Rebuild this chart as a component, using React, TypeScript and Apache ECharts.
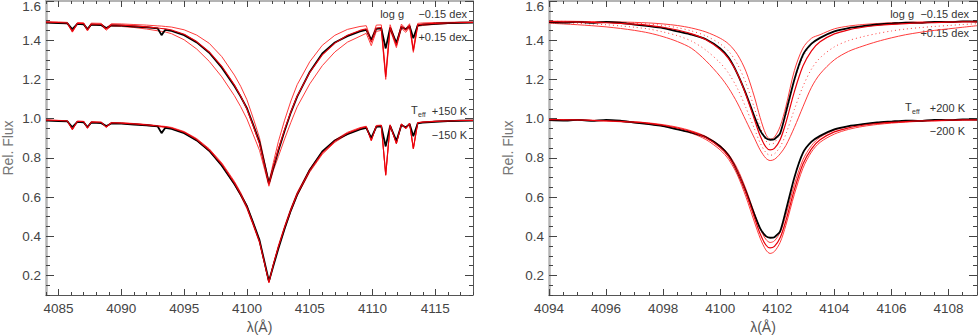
import React, { useEffect, useRef } from "react";
import * as echarts from "echarts";

// ---------- Left panel (4084 - 4118 Å) ----------
const lamL = [4084.0, 4085.0, 4085.7, 4086.1, 4086.5, 4087.0, 4087.3, 4087.6, 4088.4, 4088.8, 4089.2, 4090.0, 4091.0, 4092.0, 4092.9, 4093.2, 4093.5, 4094.0, 4095.0, 4096.0, 4097.0, 4098.0, 4099.0, 4099.5, 4100.0, 4100.5, 4101.0, 4101.4, 4101.75, 4102.1, 4102.5, 4103.0, 4103.5, 4104.0, 4105.0, 4106.0, 4107.0, 4108.0, 4109.0, 4109.5, 4109.9, 4110.3, 4110.7, 4111.05, 4111.4, 4111.9, 4112.3, 4112.65, 4112.95, 4113.25, 4113.6, 4114.0, 4115.0, 4116.0, 4117.0, 4118.0];
const obsL = [0.990, 0.987, 0.986, 0.956, 0.983, 0.981, 0.957, 0.979, 0.977, 0.962, 0.975, 0.974, 0.970, 0.966, 0.960, 0.926, 0.953, 0.947, 0.926, 0.889, 0.836, 0.760, 0.666, 0.612, 0.553, 0.468, 0.380, 0.268, 0.170, 0.248, 0.336, 0.438, 0.532, 0.612, 0.738, 0.832, 0.888, 0.921, 0.945, 0.953, 0.902, 0.958, 0.960, 0.858, 0.963, 0.886, 0.967, 0.956, 0.972, 0.910, 0.976, 0.979, 0.984, 0.987, 0.989, 0.990];
const fitL = [0.992, 0.990, 0.988, 0.945, 0.986, 0.985, 0.952, 0.983, 0.981, 0.957, 0.979, 0.977, 0.973, 0.968, 0.962, 0.960, 0.958, 0.952, 0.930, 0.893, 0.840, 0.767, 0.672, 0.615, 0.548, 0.462, 0.372, 0.262, 0.165, 0.255, 0.345, 0.445, 0.535, 0.615, 0.735, 0.825, 0.885, 0.925, 0.950, 0.958, 0.889, 0.962, 0.965, 0.713, 0.967, 0.873, 0.972, 0.950, 0.976, 0.847, 0.979, 0.982, 0.986, 0.988, 0.990, 0.991];
const loggMinusL = [0.994, 0.993, 0.991, 0.948, 0.990, 0.989, 0.956, 0.987, 0.986, 0.962, 0.984, 0.983, 0.980, 0.977, 0.973, 0.972, 0.970, 0.967, 0.953, 0.926, 0.884, 0.816, 0.722, 0.665, 0.596, 0.502, 0.402, 0.280, 0.175, 0.275, 0.382, 0.492, 0.590, 0.673, 0.790, 0.874, 0.925, 0.955, 0.970, 0.974, 0.902, 0.977, 0.978, 0.722, 0.979, 0.883, 0.982, 0.959, 0.984, 0.855, 0.986, 0.988, 0.990, 0.991, 0.992, 0.992];
const loggPlusL = [0.990, 0.987, 0.984, 0.941, 0.982, 0.980, 0.947, 0.978, 0.975, 0.951, 0.972, 0.970, 0.965, 0.957, 0.948, 0.945, 0.942, 0.933, 0.902, 0.855, 0.792, 0.713, 0.617, 0.561, 0.498, 0.418, 0.338, 0.242, 0.155, 0.235, 0.306, 0.396, 0.481, 0.560, 0.677, 0.770, 0.840, 0.890, 0.920, 0.935, 0.872, 0.945, 0.950, 0.700, 0.954, 0.862, 0.961, 0.940, 0.967, 0.838, 0.971, 0.975, 0.981, 0.985, 0.988, 0.990];
const teffPlusL = [0.993, 0.991, 0.989, 0.947, 0.987, 0.986, 0.954, 0.984, 0.982, 0.959, 0.980, 0.979, 0.975, 0.970, 0.964, 0.962, 0.960, 0.955, 0.934, 0.898, 0.846, 0.774, 0.680, 0.623, 0.556, 0.469, 0.378, 0.266, 0.168, 0.259, 0.351, 0.452, 0.543, 0.623, 0.743, 0.832, 0.891, 0.930, 0.954, 0.961, 0.892, 0.965, 0.967, 0.716, 0.969, 0.875, 0.973, 0.951, 0.977, 0.849, 0.980, 0.983, 0.987, 0.989, 0.991, 0.991];
const teffMinusL = [0.991, 0.989, 0.987, 0.943, 0.985, 0.984, 0.950, 0.982, 0.980, 0.955, 0.977, 0.975, 0.971, 0.965, 0.959, 0.957, 0.955, 0.949, 0.926, 0.887, 0.833, 0.759, 0.663, 0.606, 0.540, 0.455, 0.366, 0.258, 0.162, 0.251, 0.339, 0.438, 0.527, 0.607, 0.727, 0.818, 0.879, 0.920, 0.946, 0.955, 0.886, 0.960, 0.963, 0.710, 0.965, 0.871, 0.970, 0.948, 0.975, 0.845, 0.978, 0.981, 0.985, 0.987, 0.989, 0.990];

// ---------- Right panel (4094 - 4109 Å) ----------
const lamR = [4094.0, 4094.5, 4095.0, 4095.5, 4096.0, 4096.5, 4097.0, 4097.5, 4098.0, 4098.5, 4099.0, 4099.5, 4100.0, 4100.3, 4100.6, 4100.9, 4101.2, 4101.4, 4101.6, 4101.75, 4101.9, 4102.1, 4102.3, 4102.6, 4102.9, 4103.2, 4103.5, 4104.0, 4104.5, 4105.0, 4105.5, 4106.0, 4106.5, 4107.0, 4107.5, 4108.0, 4108.5, 4109.0];
const obsR = [0.992, 0.990, 0.993, 0.988, 0.994, 0.989, 0.980, 0.972, 0.962, 0.945, 0.928, 0.905, 0.858, 0.810, 0.730, 0.628, 0.510, 0.440, 0.400, 0.392, 0.395, 0.425, 0.530, 0.700, 0.825, 0.882, 0.912, 0.945, 0.962, 0.972, 0.980, 0.985, 0.990, 0.988, 0.994, 0.992, 0.996, 0.995];
const fitR = [0.995, 0.994, 0.993, 0.991, 0.989, 0.986, 0.982, 0.976, 0.966, 0.952, 0.932, 0.902, 0.852, 0.805, 0.730, 0.622, 0.495, 0.412, 0.355, 0.340, 0.348, 0.392, 0.478, 0.638, 0.768, 0.846, 0.892, 0.932, 0.953, 0.966, 0.975, 0.981, 0.985, 0.988, 0.990, 0.992, 0.993, 0.994];
const loggMinusR = [0.997, 0.997, 0.996, 0.995, 0.994, 0.993, 0.991, 0.988, 0.983, 0.975, 0.962, 0.942, 0.910, 0.880, 0.828, 0.742, 0.610, 0.505, 0.420, 0.395, 0.405, 0.460, 0.560, 0.745, 0.860, 0.910, 0.928, 0.958, 0.972, 0.980, 0.985, 0.989, 0.991, 0.993, 0.994, 0.995, 0.996, 0.996];
const loggPlusR = [0.987, 0.983, 0.979, 0.974, 0.968, 0.960, 0.950, 0.937, 0.918, 0.893, 0.858, 0.795, 0.715, 0.655, 0.580, 0.490, 0.400, 0.340, 0.298, 0.286, 0.292, 0.320, 0.362, 0.455, 0.560, 0.660, 0.728, 0.800, 0.843, 0.870, 0.893, 0.912, 0.928, 0.940, 0.950, 0.958, 0.966, 0.974];
const loggMinusHalfR = [0.996, 0.996, 0.994, 0.993, 0.991, 0.990, 0.987, 0.982, 0.975, 0.964, 0.947, 0.922, 0.881, 0.843, 0.779, 0.682, 0.553, 0.459, 0.388, 0.368, 0.377, 0.426, 0.519, 0.692, 0.814, 0.878, 0.910, 0.945, 0.963, 0.973, 0.980, 0.985, 0.988, 0.990, 0.992, 0.994, 0.995, 0.995];
const loggPlusHalfR = [0.991, 0.989, 0.986, 0.983, 0.979, 0.973, 0.966, 0.957, 0.942, 0.923, 0.895, 0.849, 0.784, 0.730, 0.655, 0.556, 0.448, 0.376, 0.327, 0.313, 0.320, 0.356, 0.420, 0.547, 0.664, 0.753, 0.810, 0.866, 0.898, 0.918, 0.934, 0.947, 0.957, 0.964, 0.970, 0.975, 0.980, 0.984];
const teffPlusR = [0.996, 0.995, 0.994, 0.992, 0.990, 0.988, 0.984, 0.978, 0.969, 0.956, 0.937, 0.909, 0.862, 0.817, 0.745, 0.641, 0.517, 0.438, 0.384, 0.368, 0.376, 0.420, 0.506, 0.664, 0.790, 0.862, 0.905, 0.941, 0.960, 0.971, 0.979, 0.984, 0.987, 0.990, 0.992, 0.993, 0.994, 0.995];
const teffMinusR = [0.994, 0.993, 0.992, 0.990, 0.987, 0.984, 0.979, 0.972, 0.961, 0.946, 0.925, 0.893, 0.840, 0.791, 0.713, 0.601, 0.472, 0.390, 0.330, 0.312, 0.322, 0.368, 0.455, 0.614, 0.747, 0.830, 0.879, 0.921, 0.945, 0.960, 0.970, 0.977, 0.982, 0.986, 0.988, 0.990, 0.992, 0.993];

// offset between the two groups of spectra
const UPPER_OFFSET = 0.5;

// ---------- tick labels ----------
const yLabels = [0.2, 0.4, 0.6, 0.8, 1.0, 1.2, 1.4, 1.6];
const xLabelsL = [4085, 4090, 4095, 4100, 4105, 4110, 4115];
const xLabelsR = [4094, 4096, 4098, 4100, 4102, 4104, 4106, 4108];

const FONT = "'Liberation Sans', Arial, Helvetica, sans-serif";
const TICK = "#444";
const GREY_AXIS = "#b4b4b4";

function pts(xs: number[], ys: number[], off = 0) {
  return xs.map((x, i) => [x, +(ys[i] + off).toFixed(4)]);
}

function xAxesFor(grid: number, min: number, max: number, minor: number, labels: number[]) {
  const base = { type: "value", gridIndex: grid, min, max, splitLine: { show: false } };
  return [
    {
      ...base,
      position: "bottom",
      interval: minor,
      axisLine: { show: true, onZero: false, lineStyle: { color: "#555", width: 1 } },
      axisTick: { show: true, inside: true, length: 6, customValues: labels, lineStyle: { color: TICK, width: 1 } },
      axisLabel: {
        show: true, customValues: labels, margin: 6, color: "#444", fontSize: 13.5, fontFamily: FONT,
        formatter: (v: number) => String(Math.round(v)),
      },
      name: "λ(Å)",
      nameLocation: "middle",
      nameGap: 23,
      nameTextStyle: { color: "#555", fontSize: 14, fontFamily: FONT },
    },
    {
      ...base,
      position: "bottom",
      interval: minor,
      axisLine: { show: false },
      axisTick: { show: true, inside: true, length: 3, lineStyle: { color: TICK, width: 1 } },
      axisLabel: { show: false },
    },
    {
      ...base,
      position: "top",
      interval: minor,
      axisLine: { show: true, onZero: false, lineStyle: { color: GREY_AXIS, width: 2 } },
      axisTick: { show: true, inside: true, length: 6, customValues: labels, lineStyle: { color: TICK, width: 1 } },
      axisLabel: { show: false },
    },
    {
      ...base,
      position: "top",
      interval: minor,
      axisLine: { show: false },
      axisTick: { show: true, inside: true, length: 3, lineStyle: { color: TICK, width: 1 } },
      axisLabel: { show: false },
    },
  ];
}

function yAxesFor(grid: number, nameGap: number) {
  const base = { type: "value", gridIndex: grid, min: 0.1, max: 1.6, interval: 0.05, splitLine: { show: false } };
  return [
    {
      ...base,
      position: "left",
      axisLine: { show: true, onZero: false, lineStyle: { color: GREY_AXIS, width: 2.5 } },
      axisTick: { show: true, inside: true, length: 8, customValues: yLabels, lineStyle: { color: TICK, width: 1 } },
      axisLabel: {
        show: true, customValues: yLabels, margin: 5, color: "#444", fontSize: 13.5, fontFamily: FONT,
        formatter: (v: number) => (v > 1.55 ? "{t|" + v.toFixed(1) + "}" : v.toFixed(1)),
        rich: { t: { padding: [10, 0, 0, 0], color: "#444", fontSize: 13.5, fontFamily: FONT } },
      },
      name: "Rel. Flux",
      nameLocation: "middle",
      nameGap,
      nameRotate: 90,
      nameTextStyle: { color: "#777", fontSize: 14, fontFamily: FONT },
    },
    {
      ...base,
      position: "left",
      axisLine: { show: false },
      axisTick: { show: true, inside: true, length: 4, lineStyle: { color: TICK, width: 1 } },
      axisLabel: { show: false },
    },
    {
      ...base,
      position: "right",
      axisLine: { show: true, onZero: false, lineStyle: { color: "#555", width: 1 } },
      axisTick: { show: true, inside: true, length: 8, customValues: yLabels, lineStyle: { color: TICK, width: 1 } },
      axisLabel: { show: false },
    },
    {
      ...base,
      position: "right",
      axisLine: { show: false },
      axisTick: { show: true, inside: true, length: 4, lineStyle: { color: TICK, width: 1 } },
      axisLabel: { show: false },
    },
  ];
}

function line(name: string, data: number[][], axis: number, color: string, width: number, type: string = "solid", smooth: number | boolean = false) {
  return {
    type: "line",
    name,
    data,
    xAxisIndex: axis,
    yAxisIndex: axis,
    showSymbol: false,
    symbol: "none",
    smooth,
    clip: true,
    lineStyle: { color, width, type },
    emphasis: { disabled: true },
  };
}

const RED_THIN = "#ff3b3b";
const RED_FIT = "#e8000b";
const BLACK = "#000000";

function txt(x: number, y: number, text: string, align: string, size = 11) {
  return {
    type: "text",
    x,
    y,
    silent: true,
    style: { text, fill: "#333", fontSize: size, fontFamily: FONT, align, verticalAlign: "middle" },
  };
}

export default function App() {
  const ref = useRef<HTMLDivElement>(null);
  useEffect(() => {
    if (!ref.current) return;
    const chart = echarts.init(ref.current, undefined, { renderer: "svg" });
    const series = [
      // left, upper (log g)
      line("logg -0.15 L", pts(lamL, loggMinusL, UPPER_OFFSET), 0, RED_THIN, 1),
      line("logg +0.15 L", pts(lamL, loggPlusL, UPPER_OFFSET), 0, RED_THIN, 1),
      line("obs L up", pts(lamL, obsL, UPPER_OFFSET), 0, BLACK, 1.8),
      line("fit L up", pts(lamL, fitL, UPPER_OFFSET), 0, RED_FIT, 1.1),
      // left, lower (Teff)
      line("teff +150", pts(lamL, teffPlusL), 0, RED_THIN, 1),
      line("teff -150", pts(lamL, teffMinusL), 0, RED_THIN, 1),
      line("obs L", pts(lamL, obsL), 0, BLACK, 1.8),
      line("fit L", pts(lamL, fitL), 0, RED_FIT, 1.1),
      // right, upper (log g)
      line("logg -0.15 R", pts(lamR, loggMinusR, UPPER_OFFSET), 4, RED_THIN, 1, "solid", 0.3),
      line("logg +0.15 R", pts(lamR, loggPlusR, UPPER_OFFSET), 4, RED_THIN, 1, "solid", 0.3),
      line("logg -half R", pts(lamR, loggMinusHalfR, UPPER_OFFSET), 4, RED_THIN, 1, [1, 3], 0.3),
      line("logg +half R", pts(lamR, loggPlusHalfR, UPPER_OFFSET), 4, RED_THIN, 1, [1, 3], 0.3),
      line("obs R up", pts(lamR, obsR, UPPER_OFFSET), 4, BLACK, 1.8, "solid", 0.2),
      line("fit R up", pts(lamR, fitR, UPPER_OFFSET), 4, RED_FIT, 1.2, "solid", 0.3),
      // right, lower (Teff)
      line("teff +200", pts(lamR, teffPlusR), 4, RED_THIN, 1, "solid", 0.3),
      line("teff -200", pts(lamR, teffMinusR), 4, RED_THIN, 1, "solid", 0.3),
      line("obs R", pts(lamR, obsR), 4, BLACK, 1.8, "solid", 0.2),
      line("fit R", pts(lamR, fitR), 4, RED_FIT, 1.2, "solid", 0.3),
    ];
    const graphic = [
      txt(404, 14, "log g", "right"),
      txt(467, 14, "−0.15 dex", "right"),
      txt(467, 37, "+0.15 dex", "right"),
      txt(411, 110, "T", "left"),
      txt(418, 114, "eff", "left", 7),
      txt(467, 111, "+150 K", "right"),
      txt(467, 135, "−150 K", "right"),
      txt(914, 14, "log g", "right"),
      txt(969, 14, "−0.15 dex", "right"),
      txt(969, 33, "+0.15 dex", "right"),
      txt(905, 107, "T", "left"),
      txt(912, 111, "eff", "left", 7),
      txt(965, 108, "+200 K", "right"),
      txt(965, 131, "−200 K", "right"),
    ];
    chart.setOption({
      animation: false,
      backgroundColor: "#ffffff",
      textStyle: { fontFamily: FONT },
      grid: [
        { left: 46, top: 1, width: 427, height: 294, containLabel: false, outerBoundsMode: "none" },
        { left: 549, top: 1, width: 428, height: 294, containLabel: false, outerBoundsMode: "none" },
      ],
      xAxis: [...xAxesFor(0, 4084, 4118, 1, xLabelsL), ...xAxesFor(1, 4094, 4109, 0.5, xLabelsR)],
      yAxis: [...yAxesFor(0, 31), ...yAxesFor(1, 34)],
      series,
      graphic,
    });
    return () => chart.dispose();
  }, []);
  return <div ref={ref} style={{ position: "absolute", left: 0, top: 0, width: 978, height: 335 }} />;
}
